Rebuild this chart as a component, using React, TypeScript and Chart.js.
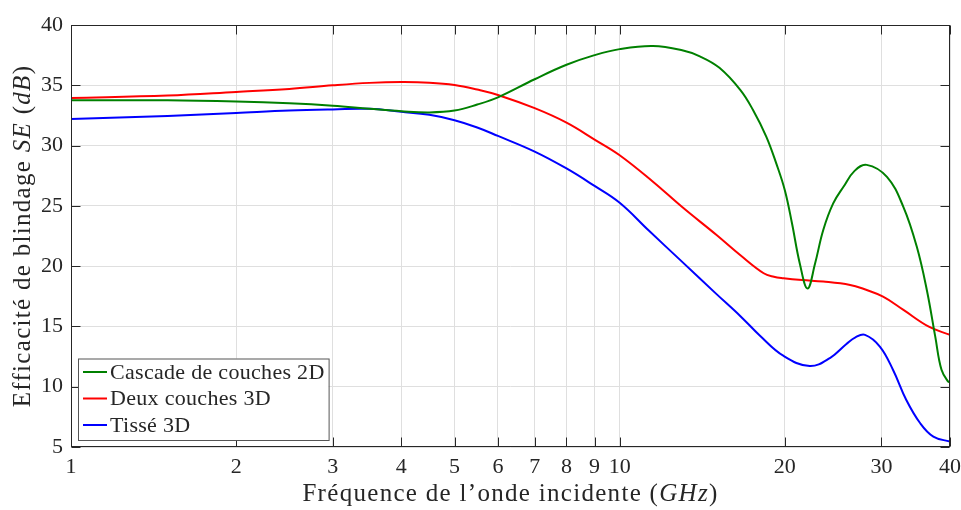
import { useEffect, useRef } from 'react';
import { Chart, registerables } from 'chart.js';

Chart.register(...registerables);

const FONT = '"Liberation Serif", "Times New Roman", serif';
const INK = '#262626';

// Series names
const seriesNames = ['Cascade de couches 2D', 'Deux couches 3D', 'Tissé 3D'];
const seriesColors = ['#008000', '#ff0000', '#0000ff'];

// Cascade de couches 2D
const cascadeFreq = [1, 1.5, 2, 2.5, 3, 3.5, 4, 4.5, 5, 5.5, 6, 7, 8, 9, 10, 11.5, 13, 14, 15.2, 16.6, 17.5, 18.5, 19.3, 20, 20.6, 21.3, 22.0, 22.7, 23.5, 24.5, 25.6, 26.8, 28.2, 30.7, 32.9, 34.8, 36.3, 37.6, 38.6, 39.7, 40];
const cascadeSE = [33.75, 33.75, 33.65, 33.5, 33.3, 33.05, 32.85, 32.75, 32.9, 33.4, 34.0, 35.5, 36.7, 37.5, 38.0, 38.25, 37.9, 37.4, 36.45, 34.6, 32.95, 30.75, 28.5, 26.3, 23.6, 20.2, 18.15, 20.2, 23.0, 25.2, 26.6, 27.9, 28.4, 27.4, 24.9, 21.6, 18.0, 14.15, 11.4, 10.42, 10.4];

// Deux couches 3D
const deuxFreq = [1, 1.5, 2, 2.5, 3, 3.5, 4, 4.5, 5, 5.5, 6, 7, 8, 9, 10, 11.5, 13, 15, 16.6, 18.3, 19.1, 19.9, 21.5, 23.5, 26.3, 27.8, 30.2, 32.9, 36.6, 40];
const deuxSE = [33.95, 34.15, 34.45, 34.7, 35.0, 35.2, 35.27, 35.22, 35.03, 34.65, 34.2, 33.1, 31.9, 30.5, 29.2, 27.0, 24.9, 22.6, 20.9, 19.41, 19.12, 19.0, 18.85, 18.72, 18.44, 18.12, 17.47, 16.37, 14.98, 14.3];

// Tissé 3D
const tisseFreq = [1, 1.5, 2, 2.5, 3, 3.5, 4, 4.5, 5, 5.5, 6, 7, 8, 9, 10, 11.3, 12.9, 15, 16.6, 18, 19.9, 22.2, 24.2, 25.9, 26.9, 28, 29.8, 31.5, 33.3, 35.3, 37.3, 40];
const tisseSE = [32.2, 32.45, 32.7, 32.9, 33.0, 33.05, 32.8, 32.55, 32.1, 31.5, 30.8, 29.5, 28.1, 26.65, 25.25, 22.95, 20.5, 17.7, 15.85, 14.25, 12.55, 11.72, 12.4, 13.55, 14.1, 14.3, 13.33, 11.39, 8.9, 6.97, 5.86, 5.45];

// Axis ticks
const xTickValues = [1, 2, 3, 4, 5, 6, 7, 8, 9, 10, 20, 30, 40];
const yTickValues = [5, 10, 15, 20, 25, 30, 35, 40];

type Seg = { t: string; it?: boolean };
const xTitle: Seg[] = [{ t: 'Fréquence de l’onde incidente (' }, { t: 'GHz', it: true }, { t: ')' }];
const yTitle: Seg[] = [{ t: 'Efficacité de blindage ' }, { t: 'SE', it: true }, { t: ' (' }, { t: 'dB', it: true }, { t: ')' }];

function segFont(s: Seg, size: number) {
  return `${s.it ? 'italic ' : ''}${size}px ${FONT}`;
}

function drawRich(ctx: CanvasRenderingContext2D, segs: Seg[], size: number, spacing: number) {
  (ctx as any).letterSpacing = spacing + 'px';
  let total = 0;
  const widths = segs.map((s) => {
    ctx.font = segFont(s, size);
    const w = ctx.measureText(s.t).width;
    total += w;
    return w;
  });
  let x = -total / 2;
  ctx.textAlign = 'left';
  ctx.textBaseline = 'alphabetic';
  segs.forEach((s, i) => {
    ctx.font = segFont(s, size);
    ctx.fillText(s.t, x, 0);
    x += widths[i];
  });
  (ctx as any).letterSpacing = '0px';
}

const framePlugin = {
  id: 'frameAndTitles',
  afterDatasetsDraw(chart: any) {
    const { ctx, chartArea: ca, scales } = chart;
    ctx.save();
    ctx.strokeStyle = INK;
    ctx.lineWidth = 1;
    const L = Math.round(ca.left) + 0.5;
    const R = Math.round(ca.right) - 0.5;
    const T = Math.round(ca.top) + 0.5;
    const B = Math.round(ca.bottom) - 0.5;
    ctx.beginPath();
    for (const v of xTickValues) {
      const px = Math.round(scales.x.getPixelForValue(v)) + 0.5;
      ctx.moveTo(px, B);
      ctx.lineTo(px, B - 9);
      ctx.moveTo(px, T);
      ctx.lineTo(px, T + 9);
    }
    for (const v of yTickValues) {
      const py = Math.round(scales.y.getPixelForValue(v)) + 0.5;
      ctx.moveTo(L, py);
      ctx.lineTo(L + 9, py);
      ctx.moveTo(R, py);
      ctx.lineTo(R - 9, py);
    }
    ctx.stroke();
    ctx.strokeRect(L, T, R - L, B - T);

    // Legend
    const lx = Math.round(ca.left) + 7;
    const rowH = 26.5;
    const lh = rowH * seriesNames.length + 2;
    const ly = Math.round(ca.bottom) - 7 - lh;
    ctx.font = `22px ${FONT}`;
    (ctx as any).letterSpacing = '0.3px';
    let maxW = 0;
    for (const n of seriesNames) maxW = Math.max(maxW, ctx.measureText(n).width);
    const lw = 32 + maxW + 4;
    ctx.fillStyle = '#ffffff';
    ctx.fillRect(lx, ly, lw, lh);
    ctx.strokeStyle = '#555555';
    ctx.strokeRect(lx + 0.5, ly + 0.5, lw, lh);
    seriesNames.forEach((n, i) => {
      const cy = ly + 13.5 + i * rowH;
      ctx.strokeStyle = seriesColors[i];
      ctx.lineWidth = 2;
      ctx.beginPath();
      ctx.moveTo(lx + 5, cy);
      ctx.lineTo(lx + 29, cy);
      ctx.stroke();
      ctx.fillStyle = INK;
      ctx.textAlign = 'left';
      ctx.textBaseline = 'middle';
      ctx.fillText(n, lx + 32, cy + 1);
    });
    (ctx as any).letterSpacing = '0px';

    // Axis titles
    ctx.fillStyle = INK;
    ctx.save();
    ctx.translate((ca.left + ca.right) / 2, 501);
    drawRich(ctx, xTitle, 25, 1.3);
    ctx.restore();
    ctx.save();
    ctx.translate(30, (ca.top + ca.bottom) / 2);
    ctx.rotate(-Math.PI / 2);
    drawRich(ctx, yTitle, 25, 1.3);
    ctx.restore();

    ctx.restore();
  },
};

function toPoints(xs: number[], ys: number[]) {
  return xs.map((x, i) => ({ x, y: ys[i] }));
}

export default function App() {
  const ref = useRef<HTMLCanvasElement | null>(null);
  useEffect(() => {
    document.body.style.margin = '0';
    const canvas = ref.current;
    if (!canvas) return;
    const datasets = [
      toPoints(cascadeFreq, cascadeSE),
      toPoints(deuxFreq, deuxSE),
      toPoints(tisseFreq, tisseSE),
    ].map((data, i) => ({
      label: seriesNames[i],
      data,
      borderColor: seriesColors[i],
      backgroundColor: seriesColors[i],
      borderWidth: 2,
      pointRadius: 0,
      fill: false,
      tension: 0.4,
    }));
    const chart = new Chart(canvas, {
      type: 'line',
      data: { datasets },
      options: {
        animation: false,
        responsive: false,
        devicePixelRatio: 1,
        events: [],
        layout: { padding: { left: 0, right: 11, top: 25, bottom: 0 } },
        plugins: { legend: { display: false }, tooltip: { enabled: false } },
        scales: {
          x: {
            type: 'logarithmic',
            min: 1,
            max: 40,
            afterBuildTicks: (axis: any) => {
              axis.ticks = xTickValues.map((v) => ({ value: v }));
            },
            afterFit: (s: any) => {
              s.height = 63;
              s.paddingLeft = 0;
              s.paddingRight = 0;
            },
            grid: { color: '#dfdfdf', drawTicks: false, lineWidth: 1 },
            border: { display: false },
            ticks: {
              autoSkip: false,
              maxRotation: 0,
              minRotation: 0,
              padding: 7,
              color: INK,
              font: { family: FONT, size: 22 },
              callback: (v: any) => String(v),
            },
          },
          y: {
            type: 'linear',
            min: 5,
            max: 40,
            afterBuildTicks: (axis: any) => {
              axis.ticks = yTickValues.map((v) => ({ value: v }));
            },
            afterFit: (s: any) => {
              s.width = 71;
              s.paddingTop = 0;
              s.paddingBottom = 0;
            },
            grid: { color: '#dfdfdf', drawTicks: false, lineWidth: 1 },
            border: { display: false },
            ticks: {
              padding: 8,
              color: INK,
              font: { family: FONT, size: 22 },
              callback: (v: any) => String(v),
            },
          },
        },
      },
      plugins: [framePlugin],
    });
    return () => chart.destroy();
  }, []);
  return <canvas ref={ref} width={961} height={510} style={{ display: 'block' }} />;
}
